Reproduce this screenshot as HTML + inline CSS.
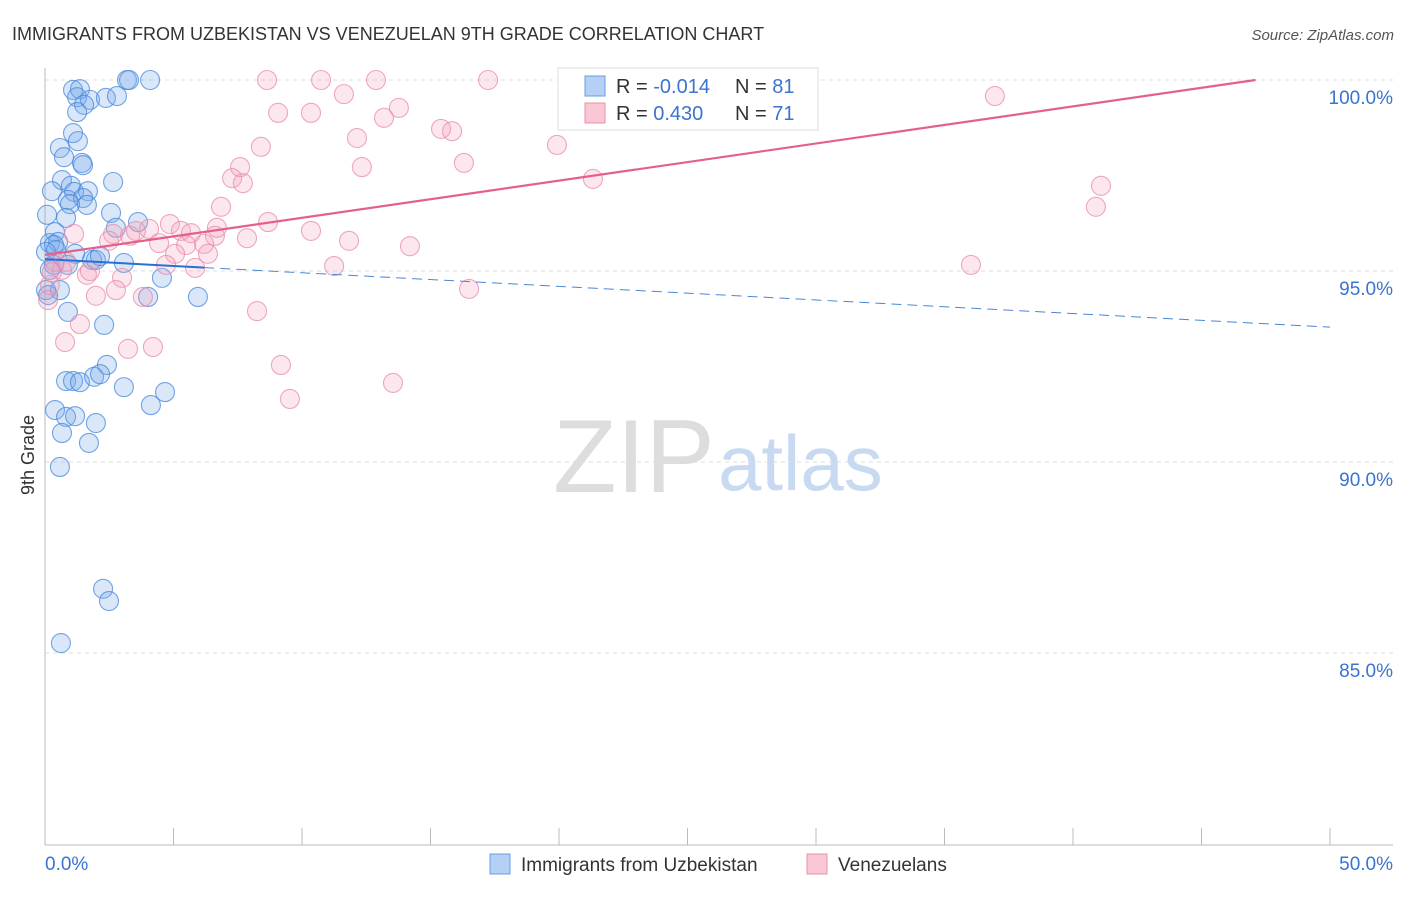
<!DOCTYPE html>
<html><head><meta charset="utf-8"><style>
body{margin:0;background:#fff;font-family:"Liberation Sans",sans-serif}
svg text{font-family:"Liberation Sans",sans-serif}
</style></head><body>
<svg id="chart" width="1406" height="892" viewBox="0 0 1406 892">
<text x="12" y="40" font-size="18" fill="#333">IMMIGRANTS FROM UZBEKISTAN VS VENEZUELAN 9TH GRADE CORRELATION CHART</text>
<text x="1394" y="40" font-size="15" fill="#555" font-style="italic" text-anchor="end">Source: ZipAtlas.com</text>
<g>
<text x="553" y="492" font-family="Liberation Serif,serif" font-size="104" fill="#ddd">ZIP</text>
<text x="718" y="490" font-size="78" fill="#c8daf2">atlas</text>
</g>
<g id="grid"></g>
<g id="axes"></g>
<g id="points"></g>
<g id="lines"></g>
<text transform="translate(34,455) rotate(-90)" font-size="18" fill="#333" text-anchor="middle">9th Grade</text>
<g>
<rect x="558" y="68" width="260" height="62" fill="#fff" stroke="#ddd"/>
<rect x="585" y="76" width="20" height="20" fill="#b4d0f5" stroke="#6a9de0"/>
<rect x="585" y="103" width="20" height="20" fill="#f9c6d4" stroke="#e890aa"/>
<text x="616" y="93" font-size="20" fill="#333">R = <tspan fill="#3a73d0">-0.014</tspan></text>
<text x="735" y="93" font-size="20" fill="#333">N = <tspan fill="#3a73d0">81</tspan></text>
<text x="616" y="120" font-size="20" fill="#333">R = <tspan fill="#3a73d0"> 0.430</tspan></text>
<text x="735" y="120" font-size="20" fill="#333">N = <tspan fill="#3a73d0">71</tspan></text>
</g>
<g>
<rect x="490" y="854" width="20" height="20" fill="#b4d0f5" stroke="#6a9de0"/>
<text x="521" y="871" font-size="19" fill="#333">Immigrants from Uzbekistan</text>
<rect x="807" y="854" width="20" height="20" fill="#f9c6d4" stroke="#e890aa"/>
<text x="838" y="871" font-size="19" fill="#333">Venezuelans</text>
</g>
</svg>
<script>
const yTicks=[100,95,90,85];
const yTickLabels=["100.0%","95.0%","90.0%","85.0%"];
const xTicks=[0,5,10,15,20,25,30,35,40,45,50];
const xEndLabels=["0.0%","50.0%"];
const blueX=[3.19,3.27,4.09,1.09,1.36,1.25,1.75,2.37,2.80,1.52,1.25,1.09,1.28,0.58,0.74,1.44,1.48,2.65,0.66,0.27,1.01,1.13,1.67,0.89,1.48,1.63,0.97,0.82,2.57,3.62,2.76,0.08,0.39,0.19,0.51,0.35,0.04,1.17,1.83,1.98,2.14,3.07,0.35,0.89,4.55,0.04,0.58,4.01,5.95,0.89,2.30,2.41,0.82,1.09,1.36,1.91,2.14,3.07,4.67,0.39,0.82,1.17,1.98,4.12,0.66,1.71,0.58,2.26,2.49,0.62,0.12,0.19,0.43];
const blueY=[100,100,100,99.74,99.76,99.55,99.48,99.53,99.58,99.35,99.16,98.61,98.40,98.22,97.98,97.83,97.77,97.33,97.38,97.09,97.23,97.07,97.09,96.86,96.91,96.73,96.75,96.39,96.52,96.28,96.13,96.47,96.02,95.73,95.76,95.68,95.50,95.45,95.29,95.29,95.39,95.21,95.16,95.16,94.82,94.50,94.50,94.32,94.32,93.93,93.59,92.54,92.12,92.12,92.09,92.23,92.30,91.96,91.83,91.36,91.18,91.20,91.02,91.49,90.76,90.50,89.87,86.68,86.36,85.26,94.37,95.03,95.55];
const pinkX=[8.64,10.74,12.88,17.24,11.63,9.07,10.35,13.77,13.19,36.96,15.41,15.84,12.14,8.40,19.92,16.30,12.33,7.59,7.28,7.70,21.32,41.09,40.89,6.85,4.86,8.68,1.13,2.65,3.31,2.49,4.05,3.54,5.29,5.68,6.61,6.69,7.86,10.35,4.44,5.49,6.19,5.06,6.34,11.83,14.20,0.39,0.82,4.71,5.84,11.25,36.03,1.63,3.00,1.98,2.76,3.81,0.19,0.12,8.25,1.36,0.78,3.23,4.20,9.18,13.54,9.53,16.50,0.66,0.27,1.75];
const pinkY=[100,100,100,100,99.63,99.14,99.14,99.27,99.01,99.58,98.72,98.66,98.48,98.25,98.30,97.83,97.72,97.72,97.43,97.30,97.41,97.23,96.68,96.68,96.23,96.28,95.97,95.97,95.92,95.79,96.10,96.05,96.05,95.99,95.92,96.13,95.86,96.05,95.73,95.68,95.71,95.45,95.45,95.79,95.65,95.24,95.24,95.16,95.08,95.13,95.16,94.90,94.82,94.35,94.50,94.32,94.63,94.24,93.95,93.61,93.14,92.96,93.01,92.54,92.07,91.65,94.53,95.03,94.97,95.00];
const blueTrend=[95.31,93.53];
const pinkTrend=[95.42,100.0];
const pinkTrendEndX=47.1;
const blueSolidEndX=6.2;

const NS="http://www.w3.org/2000/svg";
const X=v=>45+v*25.7;
const Y=v=>80+(100-v)*38.2;
function mk(tag,attrs,parent){const e=document.createElementNS(NS,tag);for(const k in attrs)e.setAttribute(k,attrs[k]);parent.appendChild(e);return e;}
const grid=document.getElementById('grid'),axes=document.getElementById('axes'),pts=document.getElementById('points'),lines=document.getElementById('lines');
yTicks.forEach((t,i)=>{
 const l=mk('line',{x1:45,x2:1393,y1:Y(t),y2:Y(t),stroke:'#ddd','stroke-dasharray':'4,4'},grid);
 
 
 const tx=mk('text',{x:1393,y:Y(t)+24,'font-size':19,fill:'#3a73d0','text-anchor':'end'},axes);
 tx.textContent=yTickLabels[i];
 
 
});
const ax=mk('line',{x1:45,x2:1393,y1:845,y2:845,stroke:'#bbb'},axes);


const ay=mk('line',{x1:45,x2:45,y1:68,y2:845,stroke:'#bbb'},axes);


xTicks.forEach(t=>{
 const l=mk('line',{x1:X(t),x2:X(t),y1:828,y2:845,stroke:'#bbb'},axes);
 
 
});
[[0,'start'],[50,'end']].forEach((p,i)=>{
 const tx=mk('text',{x:i?1393:45,y:870,'font-size':19,fill:'#3a73d0','text-anchor':p[1]},axes);
 tx.textContent=xEndLabels[i];
 
 
});
blueX.forEach((v,i)=>{
 const c=mk('circle',{cx:X(v),cy:Y(blueY[i]),r:9.5,fill:'rgba(120,170,235,0.28)',stroke:'rgba(70,135,220,0.75)','stroke-width':1.1},pts);
 
 
});
pinkX.forEach((v,i)=>{
 const c=mk('circle',{cx:X(v),cy:Y(pinkY[i]),r:9.5,fill:'rgba(245,160,188,0.25)',stroke:'rgba(232,140,170,0.75)','stroke-width':1.1},pts);
 
 
});
const bAt=x=>blueTrend[0]+(blueTrend[1]-blueTrend[0])*x/50;
const b1=mk('line',{x1:X(0),y1:Y(bAt(0)),x2:X(blueSolidEndX),y2:Y(bAt(blueSolidEndX)),stroke:'#2a6fd6','stroke-width':2},lines);


const b2=mk('line',{x1:X(blueSolidEndX),y1:Y(bAt(blueSolidEndX)),x2:X(50),y2:Y(bAt(50)),stroke:'#4a86d8','stroke-width':1,'stroke-dasharray':'10,6'},lines);


const p1=mk('line',{x1:X(0),y1:Y(pinkTrend[0]),x2:X(pinkTrendEndX),y2:Y(pinkTrend[1]),stroke:'#e4608c','stroke-width':2.2},lines);


</script>
</body></html>
